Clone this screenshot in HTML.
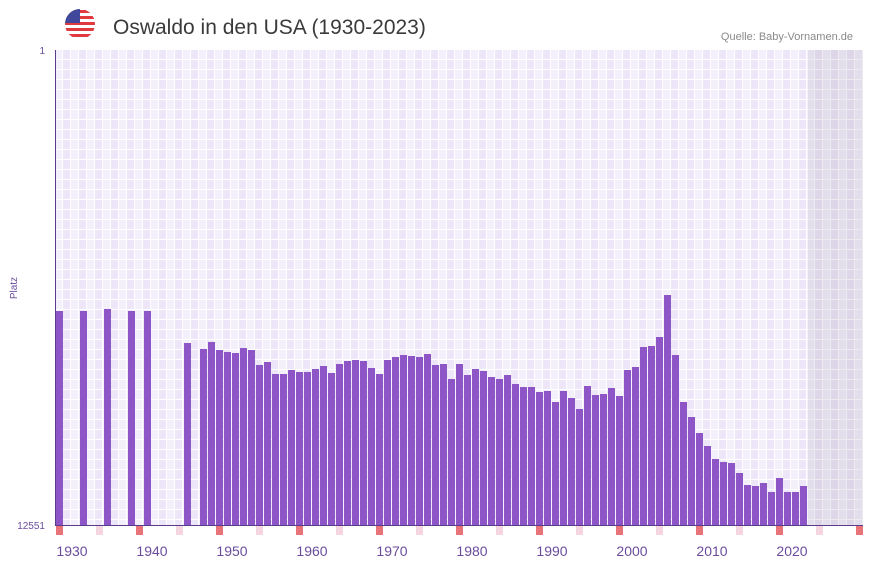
<!DOCTYPE html>
<html><head><meta charset="utf-8"><style>
body{margin:0;background:#fff;width:873px;height:567px;overflow:hidden;font-family:"Liberation Sans",sans-serif}
</style></head><body>
<svg width="873" height="567" xmlns="http://www.w3.org/2000/svg" style="position:absolute;left:0;top:0">
<defs>
<pattern id="g" x="55" y="50" width="16" height="10" patternUnits="userSpaceOnUse">
<rect width="8" height="10" fill="#f3effb"/><rect x="8" width="8" height="10" fill="#ece6f8"/>
<rect x="7" width="1" height="10" fill="#fff"/><rect x="15" width="1" height="10" fill="#fff"/>
<rect y="9" width="16" height="1" fill="#fff"/>
</pattern>
<clipPath id="fc"><circle cx="80" cy="24" r="15"/></clipPath>
</defs>
<g clip-path="url(#fc)">
<rect x="65" y="9" width="30" height="30" fill="#fff"/>
<rect x="65" y="10" width="30" height="3" fill="#e0393e"/>
<rect x="65" y="16" width="30" height="3" fill="#e0393e"/>
<rect x="65" y="22" width="30" height="3" fill="#e0393e"/>
<rect x="65" y="28" width="30" height="3" fill="#e0393e"/>
<rect x="65" y="34" width="30" height="3" fill="#e0393e"/>
<rect x="65" y="9" width="15" height="14" fill="#41479b"/>
</g>
<text x="113" y="34" font-size="21" fill="#3a3a3a">Oswaldo in den USA (1930-2023)</text>
<text x="853" y="40" font-size="11" fill="#8a8a8a" text-anchor="end">Quelle: Baby-Vornamen.de</text>
<rect x="55" y="50" width="808" height="475" fill="url(#g)"/>
<rect x="808" y="50" width="55" height="475" fill="#9a8fa8" opacity="0.18"/>
<g fill="#8e55c6" id="bars"></g>
<rect x="55" y="50" width="1" height="476" fill="#5a3a8a"/>
<rect x="55" y="525" width="808" height="1" fill="#5a3a8a"/>
<g id="marks"></g>
<text x="45" y="54" font-size="10" fill="#6a4c9c" text-anchor="end">1</text>
<text x="45" y="529" font-size="10" fill="#6a4c9c" text-anchor="end">12551</text>
<text transform="translate(17,288) rotate(-90)" font-size="10" fill="#6a4c9c" text-anchor="middle">Platz</text>
<g font-size="14" fill="#6a4c9c" text-anchor="middle" id="xl"></g>
</svg>
<script>
var d=[[55,311],[79,311],[103,309],[127,311],[143,311],[183,343],[199,349],[207,342],[215,350],[223,352],[231,353],[239,348],[247,350],[255,365],[263,362],[271,374],[279,374],[287,370],[295,372],[303,372],[311,369],[319,366],[327,373],[335,364],[343,361],[351,360],[359,361],[367,368],[375,374],[383,360],[391,357],[399,355],[407,356],[415,357],[423,354],[431,365],[439,364],[447,379],[455,364],[463,375],[471,369],[479,371],[487,377],[495,379],[503,375],[511,384],[519,387],[527,387],[535,392],[543,391],[551,402],[559,391],[567,398],[575,409],[583,386],[591,395],[599,394],[607,388],[615,396],[623,370],[631,367],[639,347],[647,346],[655,337],[663,295],[671,355],[679,402],[687,417],[695,433],[703,446],[711,459],[719,462],[727,463],[735,473],[743,485],[751,486],[759,483],[767,492],[775,478],[783,492],[791,492],[799,486]];
var s='';d.forEach(function(b){s+='<rect x="'+(b[0]+1)+'" y="'+b[1]+'" width="7" height="'+(525-b[1])+'"/>';});
document.getElementById('bars').innerHTML=s;
var m='';for(var i=0;i<11;i++){var x=56+80*i;if(x<863)m+='<rect x="'+x+'" y="526" width="7" height="9" fill="#e8747a"/>';var p=x+40;if(p<863)m+='<rect x="'+p+'" y="526" width="7" height="9" fill="#f5d6e0"/>';}
document.getElementById('marks').innerHTML=m;
var l='';for(var i=0;i<10;i++){l+='<text x="'+(72+80*i)+'" y="556">'+(1930+10*i)+'</text>';}
document.getElementById('xl').innerHTML=l;
</script>
</body></html>
